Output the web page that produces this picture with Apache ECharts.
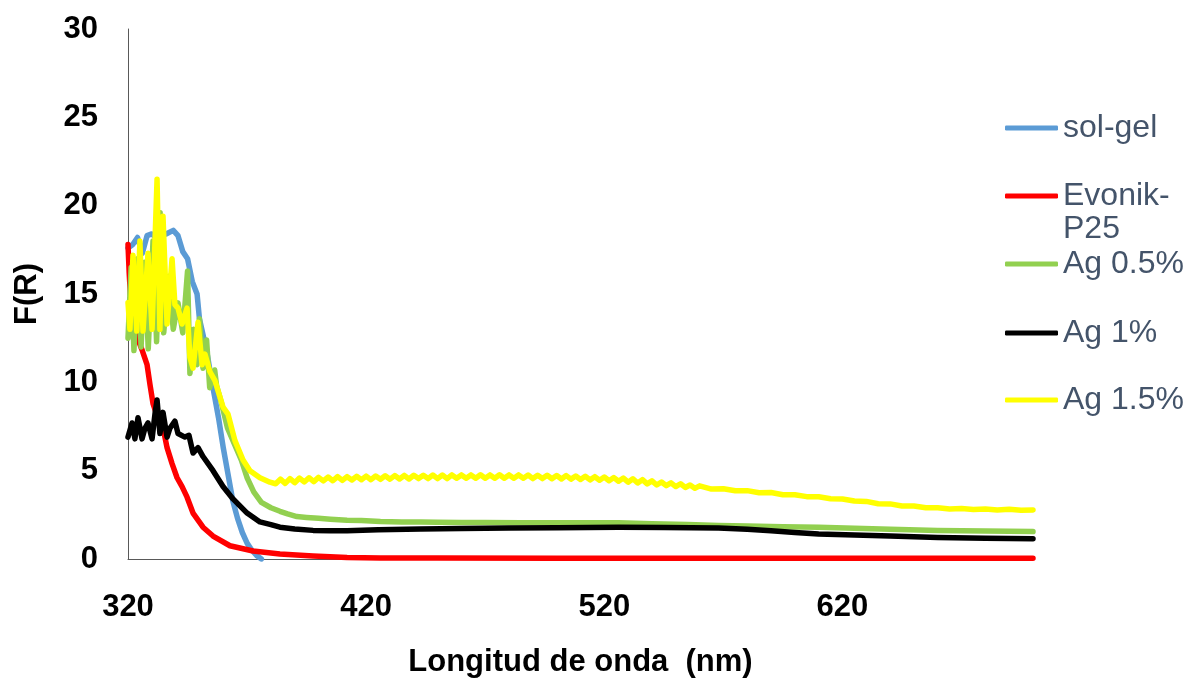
<!DOCTYPE html>
<html>
<head>
<meta charset="utf-8">
<script src="https://cdn.jsdelivr.net/npm/echarts@6/dist/echarts.min.js"></script>
<style>html,body{margin:0;padding:0;background:#fff}#c{width:1187px;height:683px}</style>
</head>
<body>
<div id="c"></div>
<script>
const seriesNames = ['sol-gel', 'Evonik-P25', 'Ag 0.5%', 'Ag 1%', 'Ag 1.5%'];
const xTicks = [320, 420, 520, 620];

const solGel = [[320,17.6],[322,17.8],[324,18.2],[326,17.3],[328,18.3],[330,18.4],[332,18.2],[334,18.3],[336,18.4],[339,18.6],[341,18.3],[343,17.4],[345,17.0],[347,15.7],[349,15.0],[350,13.6],[353,11.8],[355,10.2],[358,8.0],[360,6.3],[362,4.8],[364,3.3],[366,2.3],[368,1.5],[370,0.9],[372,0.5],[374,0.2],[376,0]];

const evonik = [[320,17.8],[320.5,16.2],[321,15.0],[322.5,13.5],[324,12.5],[326,11.8],[328,11.0],[329.2,9.9],[330.5,8.8],[332,8.2],[334.3,7.7],[336.4,6.3],[338.5,5.4],[340.6,4.6],[342.7,4.1],[344.8,3.5],[347.3,2.6],[351.5,1.8],[355.7,1.3],[362.8,0.75],[372.5,0.45],[383.8,0.28],[397.7,0.17],[412,0.09],[426,0.06],[450,0.05],[500,0.04],[600,0.04],[700,0.04]];

const ag05 = [[320,12.5],[321.3,16.5],[322.5,11.8],[324,17.0],[325.5,12.0],[327,16.8],[328.5,11.9],[330.5,18.0],[332,12.3],[333.5,19.6],[335,12.8],[337,16.0],[339,13.0],[341,14.5],[343,12.8],[345,16.3],[346,10.5],[347.5,13.0],[349,11.0],[350,13.6],[351.5,10.8],[353,12.4],[354.3,9.7],[356.4,10.7],[357.2,9.8],[359.3,8.8],[361.8,7.4],[364.7,6.5],[367.6,5.6],[370,4.6],[372.8,3.8],[376,3.2],[380,2.9],[383.8,2.7],[387,2.55],[390.9,2.4],[395,2.35],[400,2.3],[405,2.25],[412,2.2],[418,2.18],[426,2.12],[435,2.1],[443,2.1],[450,2.08],[460,2.06],[470,2.07],[485,2.05],[500,2.05],[515,2.05],[526,2.05],[540,2.0],[555,1.95],[568,1.9],[580,1.87],[595,1.83],[610,1.8],[625,1.74],[640,1.68],[660,1.62],[680,1.58],[700,1.55]];

const ag1 = [[320,6.9],[321.7,7.7],[322.9,6.8],[324.2,8.0],[325.9,6.8],[327.1,7.4],[328.4,7.7],[330.1,6.8],[331.5,8.4],[332.2,9.0],[333.4,7.1],[334.7,8.3],[336.4,6.9],[337.6,7.4],[339.7,7.8],[341,7.1],[343.9,6.9],[345.6,7.0],[347.3,6.0],[349.4,6.3],[351.5,5.8],[355.7,5.0],[359.9,4.1],[364.1,3.4],[370,2.6],[375.4,2.1],[380,1.95],[383.8,1.8],[390,1.7],[397.7,1.62],[405,1.6],[412,1.6],[425,1.65],[443,1.7],[460,1.72],[480,1.75],[500,1.77],[526,1.8],[545,1.78],[568,1.75],[580,1.68],[590,1.6],[600,1.5],[610,1.42],[625,1.36],[640,1.3],[660,1.22],[680,1.18],[700,1.15]];

const ag15 = [[320,14.5],[320.8,13.0],[322.1,17.2],[323.7,12.9],[325,18.0],[326.3,12.9],[328.4,17.3],[330.1,13.0],[332.2,21.5],[333.4,13.0],[334.7,19.4],[336.4,13.3],[338.5,17.0],[339.7,14.4],[341,14.2],[342.7,13.3],[344.8,14.2],[346,11.4],[347.3,10.8],[349.4,13.4],[351.1,11.0],[352.3,11.6],[354.4,10.6],[356.5,10.1],[359.9,8.6],[362,8.2],[364.9,6.7],[368.3,5.6],[371.2,5.0],[375.4,4.6],[379.6,4.35],
[382,4.26],[384,4.52],[386,4.28],[388,4.55],[390,4.32],[392,4.58],[394,4.36],[396,4.60],[398,4.38],[400,4.62],[402,4.42],[404,4.64],[406,4.43],[408,4.66],[410,4.45],[412,4.66],[414,4.47],[416,4.68],[418,4.49],[420,4.69],[422,4.49],[424,4.70],[426,4.51],[428,4.71],[430,4.52],[432,4.72],[434,4.53],[436,4.73],[438,4.53],[440,4.74],[442,4.55],[444,4.74],[446,4.55],[448,4.75],[450,4.55],[452,4.75],[454,4.55],[456,4.76],[458,4.57],[460,4.76],[462,4.57],[464,4.76],[466,4.57],[468,4.77],[470,4.57],[472,4.76],[474,4.57],[476,4.77],[478,4.57],[480,4.76],[482,4.57],[484,4.76],[486,4.57],[488,4.75],[490,4.55],[492,4.74],[494,4.55],[496,4.74],[498,4.54],[500,4.73],[502,4.53],[504,4.72],[506,4.52],[508,4.70],[510,4.50],[512,4.68],[514,4.48],[516,4.66],[518,4.46],[520,4.64],[522,4.43],[524,4.61],[526,4.40],[528,4.58],[530,4.35],[532,4.54],[534,4.30],[536,4.49],[538,4.25],[540,4.42],[542,4.19],[544,4.36],[546,4.15],[548,4.31],[550,4.10],[552,4.26],[554,4.05],[556,4.19],[558,4.00],[560,4.14],
[565,3.96],[570,3.98],[575,3.86],[580,3.87],[585,3.75],[590,3.76],[595,3.64],[600,3.64],[605,3.53],[610,3.52],[615,3.41],[620,3.40],[625,3.28],[630,3.26],[635,3.13],[640,3.12],[645,3.00],[650,3.00],[655,2.90],[660,2.90],[665,2.83],[670,2.86],[675,2.80],[680,2.83],[685,2.78],[690,2.81],[695,2.76],[700,2.78]];

const seriesData = [solGel, evonik, ag05, ag1, ag15];
const colors = ['#5B9BD5', '#FF0000', '#92D050', '#000000', '#FFFF00'];
const legendCenters = [128, 196, 264, 333, 400];

const chart = echarts.init(document.getElementById('c'), null, {renderer: 'canvas'});
const FONT = 'Liberation Sans, Arial, sans-serif';
const LH = 33;
const ICON_H = 5;

const legends = seriesNames.map((name, i) => {
  const twoLine = name === 'Evonik-P25';
  const boxH = twoLine ? LH * 3 : LH;
  return {
    data: [name],
    orient: 'vertical',
    left: 1005,
    top: legendCenters[i] - boxH / 2,
    padding: 0,
    itemWidth: 53,
    itemHeight: ICON_H,
    itemGap: 0,
    icon: 'roundRect',
    selectedMode: false,
    formatter: twoLine ? ' \nEvonik-\nP25' : '{name}',
    textStyle: {
      color: '#44546A',
      fontSize: 32,
      fontFamily: FONT,
      lineHeight: LH
    }
  };
});

const boldText = {fontSize: 31, fontWeight: 'bold', color: '#000', fontFamily: FONT};

chart.setOption({
  animation: false,
  backgroundColor: '#ffffff',
  grid: {left: 128, right: 154, top: 29, bottom: 123, containLabel: false},
  legend: legends,
  xAxis: {
    type: 'value',
    min: 320,
    max: 700,
    interval: 100,
    name: 'Longitud de onda  (nm)',
    nameLocation: 'middle',
    nameGap: 88,
    nameTextStyle: boldText,
    axisLine: {show: true, lineStyle: {color: '#595959', width: 1}},
    axisTick: {show: false},
    splitLine: {show: false},
    axisLabel: Object.assign({
      margin: 33,
      formatter: v => xTicks.includes(v) ? String(v) : ''
    }, boldText)
  },
  yAxis: {
    type: 'value',
    min: 0,
    max: 30,
    interval: 5,
    name: 'F(R)',
    nameLocation: 'middle',
    nameGap: 85,
    nameRotate: 90,
    nameTextStyle: boldText,
    axisLine: {show: true, lineStyle: {color: '#595959', width: 1}},
    axisTick: {show: false},
    splitLine: {show: false},
    axisLabel: Object.assign({margin: 30}, boldText)
  },
  series: seriesNames.map((name, i) => ({
    name: name,
    type: 'line',
    data: seriesData[i],
    showSymbol: false,
    symbol: 'none',
    smooth: false,
    clip: true,
    lineStyle: {width: 5.5, color: colors[i], cap: 'round', join: 'round'},
    itemStyle: {color: colors[i]},
    z: 2 + i
  }))
});
</script>
</body>
</html>
